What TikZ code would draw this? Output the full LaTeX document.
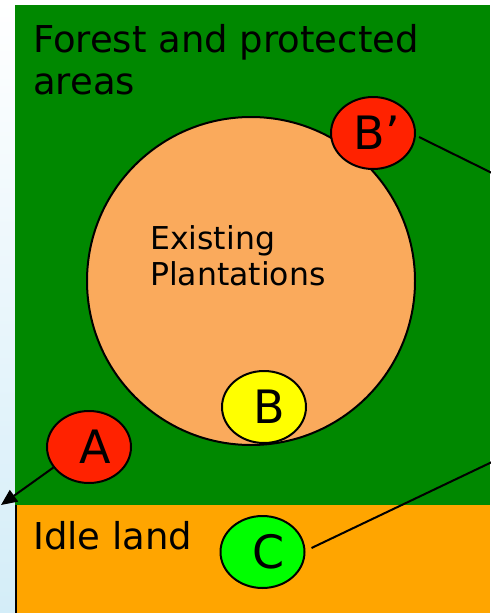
\documentclass[tikz,border=0pt]{standalone}
\usepackage{fontspec}
\setmainfont{DejaVu Sans}
\usetikzlibrary{shapes.geometric,arrows.meta}
\definecolor{forest}{RGB}{0,136,0}
\definecolor{idle}{RGB}{255,165,0}
\definecolor{plant}{RGB}{250,170,92}
\definecolor{redspot}{RGB}{255,34,0}
\definecolor{yelspot}{RGB}{255,255,0}
\definecolor{grnspot}{RGB}{0,255,0}
\definecolor{skyb}{RGB}{212,237,248}
\definecolor{skym}{RGB}{236,246,251}
\tikzset{
  spot/.style={ellipse, draw=black, line width=2pt, minimum width=84pt, minimum height=72pt, inner sep=0pt},
  spottext/.style={font=\fontsize{46}{50}\selectfont, inner sep=0pt},
  conn/.style={draw=black, line width=2pt},
}
\begin{document}
\begin{tikzpicture}[x=1pt,y=-1pt]
\useasboundingbox (0,0) rectangle (490,613);
\fill[white] (0,0) rectangle (490,613);
\shade[top color=white, middle color=skym, bottom color=skyb] (0,0) rectangle (15,613);
\fill[forest] (15,5) rectangle (490,505);
\fill[idle] (15,505) rectangle (490,613);
\draw[line width=2pt] (15.5,505) -- (15.5,613);
\node[anchor=base west, inner sep=0pt, align=left, font=\fontsize{37}{42}\selectfont] (forestlbl) at (33,94) {Forest and protected\\areas};
\node[anchor=base west, inner sep=0pt, font=\fontsize{37}{42}\selectfont] (idlelbl) at (33,549) {Idle land};
\node[circle, draw=black, line width=2pt, fill=plant, minimum size=328pt, inner sep=0pt] (plantation) at (251,281) {};
\node[anchor=base west, inner sep=0pt, align=left, font=\fontsize{31.5}{36}\selectfont] (plantlbl) at (150,285) {Existing\\Plantations};
\node[spot, fill=redspot] (Bp) at (373,133) {};
\node[spottext] (Bptxt) at ([xshift=4pt]Bp.center) {B’};
\node[spot, fill=yelspot] (B) at (264,407) {};
\node[spottext] (Btxt) at ([xshift=5pt]B.center) {B};
\node[spot, fill=redspot] (A) at (89,447) {};
\node[spottext] (Atxt) at ([xshift=6pt]A.center) {A};
\node[spot, fill=grnspot] (C) at (262.5,552) {};
\node[spottext] (Ctxt) at ([xshift=6pt]C.center) {C};
\coordinate (Aend) at (1,505);
\coordinate (Bpend) at (492,173);
\coordinate (Cend) at (492,462);
\draw[conn, -{Triangle[length=16pt,width=14pt]}] (A.210) -- (Aend);
\draw[conn] ([xshift=3pt]Bp.east) ++(0,4) -- (Bpend);
\draw[conn] (C.east) ++(6,-4) -- (Cend);
\end{tikzpicture}
\end{document}
